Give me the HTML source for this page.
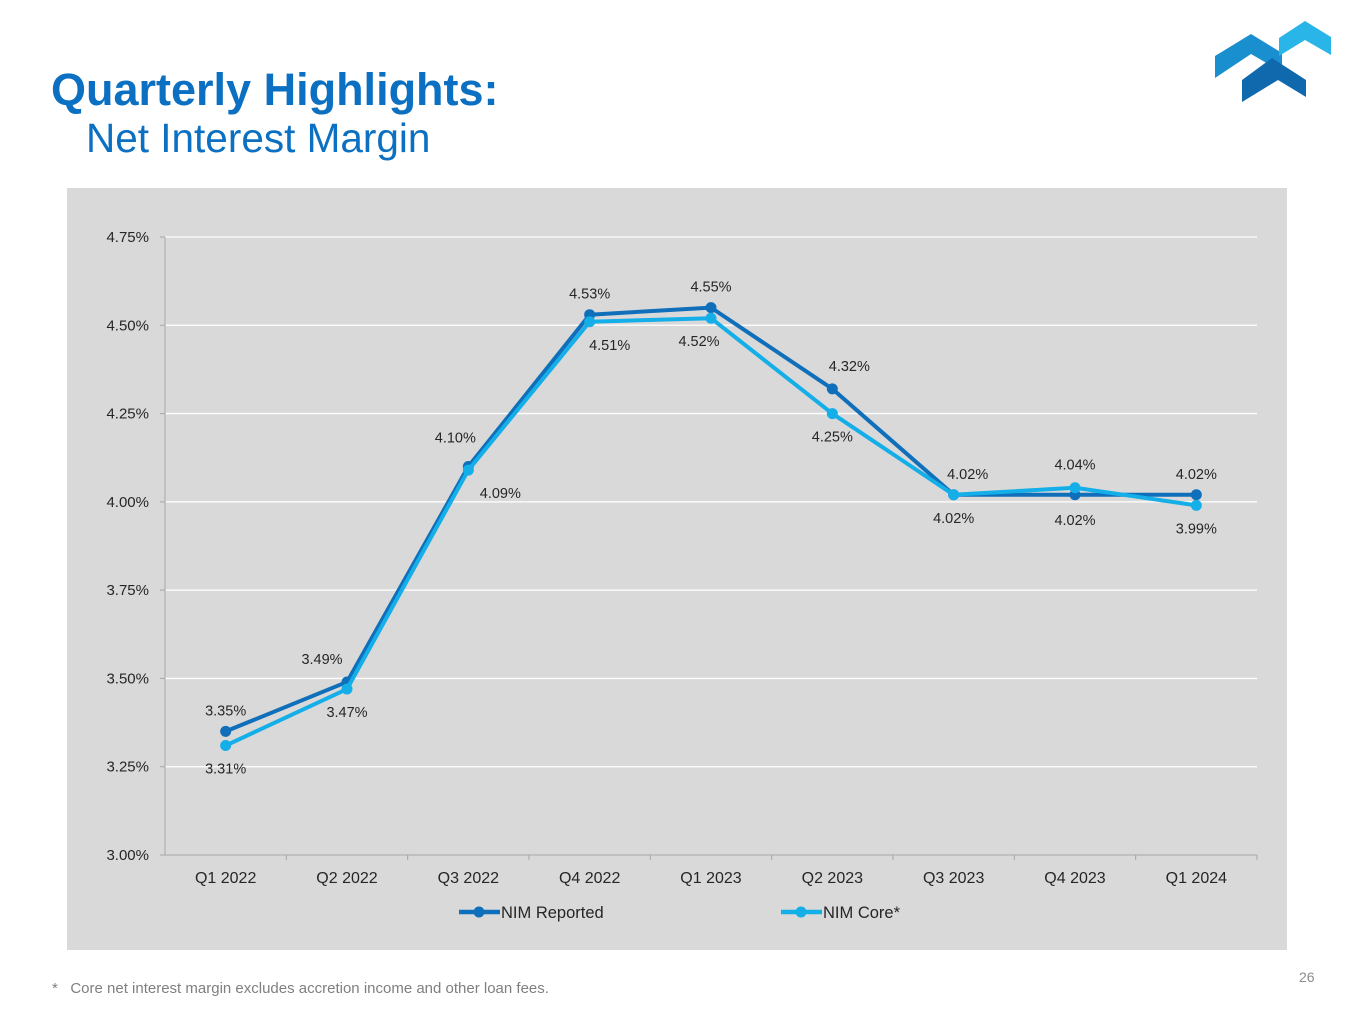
<!DOCTYPE html>
<html><head><meta charset="utf-8"><style>
body{margin:0;width:1365px;height:1024px;background:#fff;position:relative;overflow:hidden;font-family:"Liberation Sans",Arial,sans-serif}
.t1{position:absolute;left:51px;top:65px;font-size:45px;font-weight:bold;color:#0b70c2;line-height:50px}
.t2{position:absolute;left:86px;top:115px;font-size:40.5px;color:#0b70c2;line-height:46px}
.fn{position:absolute;left:52px;top:980px;font-size:15px;color:#7f7f7f}
.pg{position:absolute;left:1299px;top:969px;font-size:14px;color:#8c8c8c}
svg{position:absolute;left:0;top:0}
</style></head><body>
<div class="t1">Quarterly Highlights:</div>
<div class="t2">Net Interest Margin</div>
<div class="fn">*&nbsp;&nbsp;&nbsp;Core net interest margin excludes accretion income and other loan fees.</div>
<div class="pg">26</div>
<svg width="1365" height="1024" id="chart">
<g>
<polygon points="1215,78 1215,56 1251,34 1282,53 1282,72 1251,54" fill="#1a8fd0"/>
<polygon points="1279,56 1279,38 1305,21 1331,37 1331,55 1305,40" fill="#29b5e8"/>
<polygon points="1242,102 1242,80 1272,58 1306,80 1306,97 1278,80" fill="#1068ad"/>
</g>
<rect x="67" y="188" width="1220" height="762" fill="#d9d9d9"/>
</svg>
<script>
const categories=["Q1 2022","Q2 2022","Q3 2022","Q4 2022","Q1 2023","Q2 2023","Q3 2023","Q4 2023","Q1 2024"];
const nimReported=[3.35,3.49,4.10,4.53,4.55,4.32,4.02,4.02,4.02];
const nimCore=[3.31,3.47,4.09,4.51,4.52,4.25,4.02,4.04,3.99];
const yTicks=[3.00,3.25,3.50,3.75,4.00,4.25,4.50,4.75];
const NS="http://www.w3.org/2000/svg";
const svg=document.getElementById('chart');
const L=165,R=1257,Y0=855,Y1=237;
const yMin=3.0,yMax=4.75;
const step=(R-L)/categories.length;
function x(i){return L+step*(i+0.5);}
function y(v){return Y0-(v-yMin)/(yMax-yMin)*(Y0-Y1);}
function mk(tag,attrs,parent){const e=document.createElementNS(NS,tag);for(const k in attrs)e.setAttribute(k,attrs[k]);(parent||svg).appendChild(e);return e;}
yTicks.forEach(t=>{
 if(t>yMin){const g=mk('line',{x1:L,x2:R,y1:y(t),y2:y(t),stroke:'#fff','stroke-width':1.3});
 
 }
 const tl=mk('text',{x:L-16,y:y(t)+5,'text-anchor':'end','font-size':15,fill:'#262626'});
 tl.textContent=t.toFixed(2)+'%';
 
 
 mk('line',{x1:L-5,x2:L,y1:y(t),y2:y(t),stroke:'#a6a6a6'});
});
mk('line',{x1:L,x2:L,y1:Y1,y2:Y0,stroke:'#a6a6a6'});
mk('line',{x1:L,x2:R,y1:Y0,y2:Y0,stroke:'#a6a6a6'});
categories.forEach((c,i)=>{
 mk('line',{x1:L+step*(i+1),x2:L+step*(i+1),y1:Y0,y2:Y0+5,stroke:'#a6a6a6'});
 const t=mk('text',{x:x(i),y:Y0+28,'text-anchor':'middle','font-size':16,fill:'#262626'});
 t.textContent=c;
 
 
});
function series(vals,color,name){
 const p=mk('polyline',{points:vals.map((v,i)=>x(i)+','+y(v)).join(' '),fill:'none',stroke:color,'stroke-width':4,'stroke-linejoin':'round'});
 
 
 vals.forEach((v,i)=>{const c=mk('circle',{cx:x(i),cy:y(v),r:5.5,fill:color});
 
 });
}
series(nimReported,'#0f6fba','nim-reported');
series(nimCore,'#14aee8','nim-core');
const repDx=[0,-25,-13,0,0,17,14,0,0];
const repDy=[0,-2,-8,0,0,-2,0,0,0];
const coreDx=[0,0,32,20,-12,0,0,0,0];
nimReported.forEach((v,i)=>{
 const above=v>=nimCore[i];
 const t=mk('text',{x:x(i)+repDx[i],y:(above?y(v)-16:y(v)+30)+repDy[i],'text-anchor':'middle','font-size':14.5,fill:'#262626'});
 t.textContent=v.toFixed(2)+'%';
 
 
});
nimCore.forEach((v,i)=>{
 const above=v>nimReported[i];
 const t=mk('text',{x:x(i)+coreDx[i],y:above?y(v)-18:y(v)+28,'text-anchor':'middle','font-size':14.5,fill:'#262626'});
 t.textContent=v.toFixed(2)+'%';
 
 
});
function legend(lx,color,label,name){
 const g=mk('g',{});
 
 
 mk('line',{x1:lx,x2:lx+41,y1:912,y2:912,stroke:color,'stroke-width':4.5},g);
 mk('circle',{cx:lx+20,cy:912,r:5.5,fill:color},g);
 const t=mk('text',{x:lx+42,y:918,'font-size':16.5,fill:'#262626'},g);
 t.textContent=label;
}
legend(459,'#0f6fba','NIM Reported','legend-nim-reported');
legend(781,'#14aee8','NIM Core*','legend-nim-core');
</script>
</body></html>
